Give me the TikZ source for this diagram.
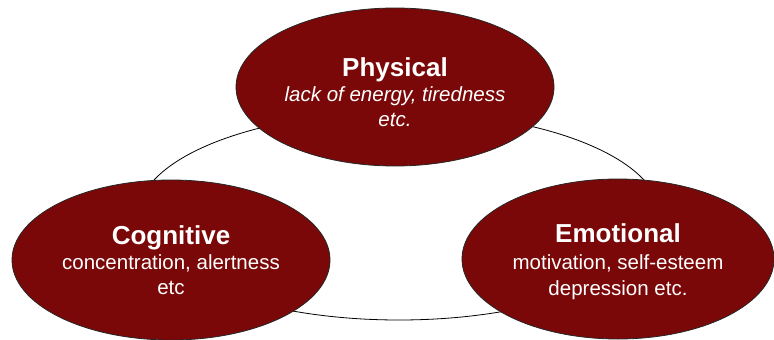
\documentclass[tikz,border=0pt]{standalone}
\usepackage{fontspec}
\setmainfont{Liberation Sans}
\usetikzlibrary{shapes.geometric}

\definecolor{wine}{RGB}{123,8,8}
% title line of an area, with an optional strut that pushes the text down
\newcommand{\areahead}[2][0pt]{{\fontsize{26}{25}\selectfont\bfseries\rule{0pt}{#1}#2}}

\tikzset{
  area/.style={ellipse, draw=black!85, line width=0.8pt, fill=wine, text=white,
    align=center, inner sep=0pt, font=\fontsize{20.5}{25}\selectfont},
  ringline/.style={ellipse, draw=black, line width=0.8pt, inner sep=0pt}
}

\begin{document}
\begin{tikzpicture}[x=1pt,y=-1pt]
      \useasboundingbox (0,0) rectangle (774,340);

      % the ring behind the three areas
      \node[ringline, minimum width=522pt, minimum height=208pt] (ring) at (399,216) {};

      \node[area, minimum width=318pt, minimum height=158pt] (physical) at (395,87)
        {\areahead[29pt]{Physical}\\ \itshape lack of energy, tiredness\\ \itshape etc.};
      \node[area, minimum width=318pt, minimum height=160pt] (cognitive) at (171,260)
        {\areahead{Cognitive}\\ concentration, alertness\\ etc};
      \node[area, minimum width=312pt, minimum height=160pt,
        font=\fontsize{20.5}{26.5}\selectfont] (emotional) at (618,259)
        {\areahead[25pt]{Emotional}\\ motivation, self-esteem\\ depression etc.};
    \end{tikzpicture}
\end{document}
